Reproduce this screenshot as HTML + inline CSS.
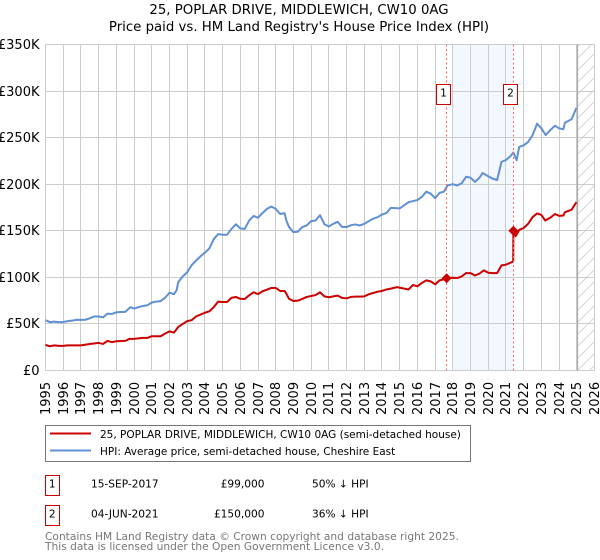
<!DOCTYPE html>
<html lang="en">
<head>
<meta charset="utf-8">
<title>25, Poplar Drive price chart</title>
<style>
html,body{margin:0;padding:0;background:#fff;}
#chart{display:block;width:600px;height:560px;font-family:"DejaVu Sans",sans-serif;}
</style>
</head>
<body>
<svg id="chart" xmlns="http://www.w3.org/2000/svg" width="600" height="560" viewBox="0 0 600 560">
  <defs>
    <pattern id="hatch" patternUnits="userSpaceOnUse" width="12" height="12">
      <path d="M-3 3L3 -3M0 12L12 0M9 15L15 9" stroke="#d6d6d6" stroke-width="1" fill="none"/>
    </pattern>
  </defs>
  <text x="299" y="14" text-anchor="middle" font-size="13.3" fill="#000">25, POPLAR DRIVE, MIDDLEWICH, CW10 0AG</text>
  <text x="299" y="31" text-anchor="middle" font-size="13.3" fill="#000">Price paid vs. HM Land Registry's House Price Index (HPI)</text>
  <g id="plot-under"></g>
  <g id="grid"></g>
  <g id="y-ticks"></g>
  <g id="x-ticks"></g>
  <g id="series"></g>
  <g id="markers"></g>

  <rect x="45.5" y="425.5" width="425" height="36" fill="#fff" stroke="#777" stroke-width="1"/>
  <line x1="50" x2="91" y1="433.5" y2="433.5" stroke="#cc0000" stroke-width="2"/>
  <text x="100" y="438" font-size="10.5" fill="#000">25, POPLAR DRIVE, MIDDLEWICH, CW10 0AG (semi-detached house)</text>
  <line x1="50" x2="91" y1="450.5" y2="450.5" stroke="#6090d4" stroke-width="2"/>
  <text x="100" y="455" font-size="10.5" fill="#000">HPI: Average price, semi-detached house, Cheshire East</text>

  <rect x="45.5" y="475.5" width="14" height="20" fill="#fff" stroke="#cc0000" stroke-width="1"/>
  <text x="52.3" y="487.5" text-anchor="middle" font-size="10.6">1</text>
  <text x="91" y="487.5" font-size="10.6">15-SEP-2017</text>
  <text x="264.5" y="487.5" text-anchor="end" font-size="10.6">£99,000</text>
  <text x="312" y="487.5" font-size="10.6">50% ↓ HPI</text>

  <rect x="45.5" y="505.5" width="14" height="20" fill="#fff" stroke="#cc0000" stroke-width="1"/>
  <text x="52.3" y="517.5" text-anchor="middle" font-size="10.6">2</text>
  <text x="91" y="517.5" font-size="10.6">04-JUN-2021</text>
  <text x="264.5" y="517.5" text-anchor="end" font-size="10.6">£150,000</text>
  <text x="312" y="517.5" font-size="10.6">36% ↓ HPI</text>

  <text x="45" y="540" font-size="10.65" fill="#777">Contains HM Land Registry data © Crown copyright and database right 2025.</text>
  <text x="45" y="550" font-size="10.65" fill="#777">This data is licensed under the Open Government Licence v3.0.</text>
</svg>
<script>
const yTickValues = [0, 50, 100, 150, 200, 250, 300, 350];
const yTickLabels = ['£0', '£50K', '£100K', '£150K', '£200K', '£250K', '£300K', '£350K'];
const xTickYears = [1995,1996,1997,1998,1999,2000,2001,2002,2003,2004,2005,2006,2007,2008,2009,2010,2011,2012,2013,2014,2015,2016,2017,2018,2019,2020,2021,2022,2023,2024,2025,2026];

const hpiDates = [1995,1995.25,1995.5,1995.75,1996,1996.25,1996.5,1996.75,1997,1997.25,1997.5,1997.75,1998,1998.25,1998.5,1998.75,1999,1999.25,1999.5,1999.8,2000,2000.25,2000.5,2000.75,2001,2001.25,2001.5,2001.75,2002,2002.25,2002.4,2002.5,2002.75,2003,2003.25,2003.5,2003.75,2004,2004.25,2004.5,2004.75,2005,2005.25,2005.5,2005.75,2006,2006.25,2006.5,2006.75,2007,2007.25,2007.5,2007.75,2008,2008.25,2008.5,2008.6,2008.75,2009,2009.25,2009.5,2009.75,2010,2010.25,2010.5,2010.75,2011,2011.25,2011.5,2011.75,2012,2012.25,2012.5,2012.75,2013,2013.25,2013.5,2013.75,2014,2014.25,2014.5,2015,2015.5,2016,2016.25,2016.5,2016.75,2017,2017.25,2017.5,2017.7,2018,2018.25,2018.5,2018.75,2019,2019.25,2019.5,2019.68,2020,2020.25,2020.5,2020.75,2021,2021.25,2021.42,2021.6,2021.75,2022,2022.25,2022.5,2022.76,2023,2023.24,2023.5,2023.77,2024,2024.24,2024.33,2024.7,2024.98];
const hpiValues = [54,52,52.5,52,52,53,53.5,54.5,54.3,54.5,56,58,58,57,61,60.7,62.5,62.8,63,68,66.5,68,69.3,70,73,74,74.5,78,83.5,82,86,95,101,105.5,113,118,122.5,126.5,131,141,146.5,145.7,145.7,152,157,152.5,152,161,166,164,169,173.5,176,173.5,168,169,161,154,148.5,149,154,155.7,160.4,161,166.8,157,154.6,157.5,159.6,154,154,156,156.8,155.7,157.5,160.4,163,164.6,167.5,169,174.6,174,180.7,183,186.4,192,190,185,190.7,192,198.6,200,198.6,201,208,207,202.5,206.8,212,208.6,206,204.5,224,226,230,234,225.7,240,241.8,245.4,252.5,265,260,252.8,258,262.8,260,259,266,269.7,282];

const paidDates = [1995,1995.25,1995.5,1995.75,1996,1996.25,1997,1997.5,1998,1998.25,1998.5,1998.75,1999,1999.5,1999.75,2000,2000.5,2000.75,2001,2001.25,2001.5,2001.75,2002,2002.25,2002.5,2002.75,2003,2003.25,2003.5,2003.75,2004,2004.25,2004.5,2004.75,2005,2005.25,2005.5,2005.75,2006,2006.25,2006.5,2006.75,2007,2007.25,2007.5,2007.75,2008,2008.25,2008.5,2008.6,2008.75,2009,2009.25,2009.5,2009.75,2010,2010.25,2010.5,2010.75,2011,2011.25,2011.5,2011.75,2012,2012.25,2012.5,2012.75,2013,2013.25,2013.5,2013.75,2014,2014.25,2014.5,2014.85,2015.5,2015.75,2016,2016.25,2016.5,2016.75,2017,2017.25,2017.5,2017.65,2018,2018.25,2018.5,2018.75,2019,2019.25,2019.5,2019.75,2020,2020.25,2020.5,2020.75,2021,2021.25,2021.41,2021.42,2021.55,2021.75,2022,2022.25,2022.5,2022.76,2023,2023.22,2023.5,2023.77,2024,2024.24,2024.33,2024.7,2024.98];
const paidValues = [27.5,26,27,26.4,26.4,27,27,28.5,29.6,28.5,31.8,30.4,31.4,31.8,34,34,35,35,36.8,36.8,36.8,39.6,42,40.7,46.8,50,53,54,58,60,62,63.5,68,74,73.5,73.5,78,79,77,76.8,80.7,84,82,85,86.8,88.6,88.6,85.4,85.4,82.5,77,74.6,75,76.8,79,80,81,84,79.6,78.6,79.6,80.4,77.9,77.5,79,79.3,79.3,79.6,81.8,83.2,84.6,85.4,87,87.9,89.5,87,91.8,90.4,94,96.8,95.7,92.5,96.8,97.9,99,99.6,99.3,101,104.6,104.6,102,104,107.5,105,104.6,104.6,112.9,113.6,115.7,117,150,144.3,151,153,157.5,164.6,168.6,167,161,164,168,166,166.4,170,172.5,180.7];

const saleDates = [2017.65, 2021.42];
const salePrices = [99, 150];
const saleNumbers = ['1', '2'];
const shadeStart = 2018;
const shadeEnd = 2021.42;
const dataEnd = 2025.04;

const NS = 'http://www.w3.org/2000/svg';
const plotLeft = 45.5, plotRight = 594.5, plotTop = 44.5, plotBottom = 370.5;
const xScale = y => plotLeft + (y - 1995) * (plotRight - plotLeft) / (2026 - 1995);
const yScale = v => plotBottom - v * (plotBottom - plotTop) / 350;
const snap = p => Math.round(p - 0.5) + 0.5;
function make(tag, attrs, parent) {
  const el = document.createElementNS(NS, tag);
  for (const k in attrs) el.setAttribute(k, attrs[k]);
  parent.appendChild(el);
  return el;
}
const under = document.getElementById('plot-under');
const grid = document.getElementById('grid');
const yTicks = document.getElementById('y-ticks');
const xTicks = document.getElementById('x-ticks');
const seriesG = document.getElementById('series');
const markersG = document.getElementById('markers');

const shade = make('rect', {x: xScale(shadeStart), y: plotTop, width: xScale(shadeEnd) - xScale(shadeStart), height: plotBottom - plotTop, fill: '#f3f7fe'}, under);


const hatch = make('rect', {x: xScale(dataEnd), y: plotTop, width: plotRight - xScale(dataEnd), height: plotBottom - plotTop, fill: 'url(#hatch)'}, under);



yTickValues.forEach((v, i) => {
  const y = snap(yScale(v));
  const line = make('line', {x1: plotLeft, x2: plotRight, y1: y, y2: y, stroke: '#cccccc', 'stroke-width': 1}, grid);
  
  
  const t = make('text', {x: 39.5, y: y + 4.7, 'text-anchor': 'end', 'font-size': 13, fill: '#000'}, yTicks);
  
  
  t.textContent = yTickLabels[i];
});
xTickYears.forEach(yr => {
  const x = snap(xScale(yr));
  const line = make('line', {x1: x, x2: x, y1: plotTop, y2: plotBottom, stroke: '#cccccc', 'stroke-width': 1}, grid);
  
  
  const t = make('text', {transform: 'translate(' + (x + 4.7) + ',415) rotate(-90)', 'font-size': 13, fill: '#000'}, xTicks);
  
  
  t.textContent = String(yr);
});

const endLine = make('line', {x1: xScale(dataEnd), x2: xScale(dataEnd), y1: plotTop, y2: plotBottom, stroke: '#aaaaaa', 'stroke-width': 1.2}, under.parentNode);


under.parentNode.insertBefore(endLine, seriesG);

function pathFrom(dates, values) {
  return dates.map((d, i) => (i ? 'L' : 'M') + xScale(d).toFixed(2) + ' ' + yScale(values[i]).toFixed(2)).join('');
}
const hpiLine = make('path', {d: pathFrom(hpiDates, hpiValues), fill: 'none', stroke: '#6090d4', 'stroke-width': 2, 'stroke-linejoin': 'round'}, seriesG);


const paidLine = make('path', {d: pathFrom(paidDates, paidValues), fill: 'none', stroke: '#cc0000', 'stroke-width': 2, 'stroke-linejoin': 'round'}, seriesG);



saleDates.forEach((d, i) => {
  const x = xScale(d), y = yScale(salePrices[i]);
  const lx = snap(x);
  const dash = make('line', {x1: lx, x2: lx, y1: plotTop, y2: plotBottom, stroke: '#ff6666', 'stroke-width': 1, 'stroke-dasharray': '2 2.5'}, markersG);
  
  
  const dm = make('path', {d: 'M' + x + ' ' + (y - 5) + 'L' + (x + 5) + ' ' + y + 'L' + x + ' ' + (y + 5) + 'L' + (x - 5) + ' ' + y + 'Z', fill: '#cc0000'}, markersG);
  
  
  const bx = snap(x - 10);
  const box = make('rect', {x: bx, y: 84.5, width: 14, height: 20, fill: '#fff', stroke: '#cc0000', 'stroke-width': 1}, markersG);
  
  
  const lab = make('text', {x: bx + 7, y: 96.5, 'text-anchor': 'middle', 'font-size': 10.6, fill: '#000'}, markersG);
  
  
  lab.textContent = saleNumbers[i];
});
</script>
</body>
</html>
